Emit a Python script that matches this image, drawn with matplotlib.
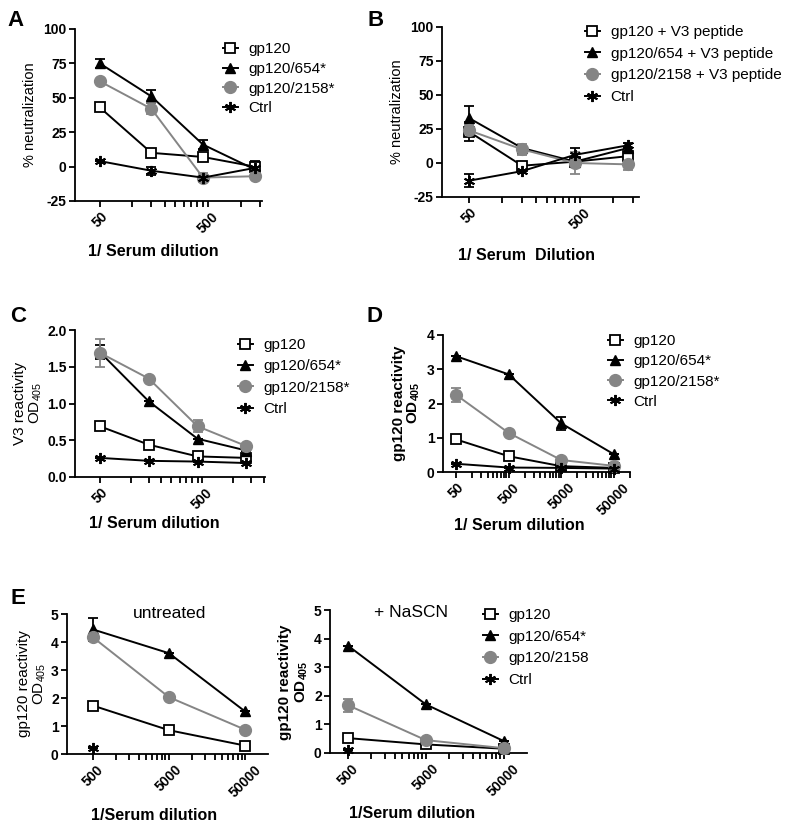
import numpy as np
import matplotlib
matplotlib.use("Agg")
import matplotlib.pyplot as plt
from matplotlib.ticker import FixedLocator, NullFormatter

plt.rcParams['font.family'] = ['Liberation Sans', 'DejaVu Sans']
plt.rcParams['mathtext.fontset'] = 'custom'
plt.rcParams['mathtext.rm'] = 'Liberation Sans'
plt.rcParams['mathtext.it'] = 'Liberation Sans'
plt.rcParams['mathtext.bf'] = 'Liberation Sans:bold'
plt.rcParams['axes.unicode_minus'] = False

# ---------------- data ----------------
x_AC = [50, 150, 450, 1350]
x_D = [50, 500, 5000, 50000]
x_E = [500, 5000, 50000]

labels_A = ['gp120', 'gp120/654*', 'gp120/2158*', 'Ctrl']
labels_B = ['gp120 + V3 peptide', 'gp120/654 + V3 peptide', 'gp120/2158 + V3 peptide', 'Ctrl']
labels_E = ['gp120', 'gp120/654*', 'gp120/2158', 'Ctrl']

# Panel A: % neutralization
A_gp120 = [43, 10, 7, 0];      A_gp120_err = [0, 0, 0, 4]
A_654 = [75, 51, 16, -2];      A_654_err = [3, 5, 3, 0]
A_2158 = [62, 42, -8, -7];     A_2158_err = [0, 4, 3, 0]
A_ctrl = [4, -3, -8, -1];      A_ctrl_err = [0, 3, 0, 0]

# Panel B: % neutralization with V3 peptide
B_gp120 = [23, -2, 1, 5];      B_gp120_err = [7, 0, 0, 0]
B_654 = [33, 11, 1, 11];       B_654_err = [9, 0, 0, 0]
B_2158 = [24, 10, 0, -1];      B_2158_err = [4, 4, 8, 4]
B_ctrl = [-13, -6, 6, 13];     B_ctrl_err = [5, 0, 5, 2]

# Panel C: V3 reactivity OD405
C_gp120 = [0.69, 0.44, 0.28, 0.26];  C_gp120_err = [0, 0, 0, 0]
C_654 = [1.70, 1.03, 0.52, 0.36];    C_654_err = [0.1, 0, 0, 0]
C_2158 = [1.69, 1.34, 0.69, 0.42];   C_2158_err = [0.19, 0, 0.08, 0]
C_ctrl = [0.26, 0.22, 0.21, 0.19];   C_ctrl_err = [0, 0, 0, 0]

# Panel D: gp120 reactivity OD405
D_gp120 = [0.95, 0.46, 0.17, 0.12];  D_gp120_err = [0, 0, 0, 0]
D_654 = [3.38, 2.85, 1.42, 0.52];    D_654_err = [0, 0, 0.2, 0]
D_2158 = [2.25, 1.14, 0.35, 0.18];   D_2158_err = [0.2, 0, 0, 0]
D_ctrl = [0.24, 0.13, 0.12, 0.10];   D_ctrl_err = [0, 0, 0, 0]

# Panel E untreated
Eu_gp120 = [1.73, 0.85, 0.30];       Eu_gp120_err = [0, 0, 0]
Eu_654 = [4.45, 3.60, 1.52];         Eu_654_err = [0.4, 0, 0]
Eu_2158 = [4.17, 2.03, 0.87];        Eu_2158_err = [0, 0, 0]
Eu_ctrl = [0.20, np.nan, np.nan];    Eu_ctrl_err = [0, 0, 0]

# Panel E + NaSCN
En_gp120 = [0.52, 0.30, 0.15];       En_gp120_err = [0, 0, 0]
En_654 = [3.75, 1.70, 0.42];         En_654_err = [0, 0, 0]
En_2158 = [1.67, 0.45, 0.17];        En_2158_err = [0.22, 0, 0]
En_ctrl = [0.12, np.nan, np.nan];    En_ctrl_err = [0, 0, 0]

# ---------------- styling ----------------
GRAY = '#858585'
STY = [
    dict(marker='s', mfc='white', mec='black', color='black', ms=7.5, mew=1.3),
    dict(marker='^', mfc='black', mec='black', color='black', ms=7.5, mew=1.0),
    dict(marker='o', mfc=GRAY, mec=GRAY, color=GRAY, ms=8.5, mew=1.0),
    dict(marker=(6, 2, 0), mfc='black', mec='black', color='black', ms=8, mew=1.4),
]

W, H = 800, 827
fig = plt.figure(figsize=(W / 100, H / 100), dpi=100)


def axbox(l, r, t, b):
    return fig.add_axes([l / W, 1 - b / H, (r - l) / W, (b - t) / H])


def style_axes(ax, xlim, ylim, yticks, majors, yfmt=None):
    ax.set_xscale('log')
    ax.set_xlim(*xlim)
    ax.set_ylim(*ylim)
    for s in ['top', 'right']:
        ax.spines[s].set_visible(False)
    for s in ['left', 'bottom']:
        ax.spines[s].set_linewidth(1.3)
    ax.set_yticks(yticks)
    if yfmt:
        ax.set_yticklabels([yfmt.format(v) for v in yticks])
    ax.set_xticks(majors)
    ax.set_xticklabels([str(m) for m in majors], rotation=45, ha='center', va='top')
    minors = []
    for m in majors + [majors[-1] * 10]:
        for k in range(2, 10):
            v = m * k
            if v < xlim[1] and v not in majors:
                minors.append(v)
    ax.xaxis.set_minor_locator(FixedLocator(minors))
    ax.xaxis.set_minor_formatter(NullFormatter())
    ax.tick_params(axis='both', which='major', length=4, width=1.3, labelsize=10, pad=2)
    ax.tick_params(axis='x', which='minor', length=4, width=1.3)
    ax.tick_params(axis='y', which='minor', left=False)
    for lab in ax.get_xticklabels() + ax.get_yticklabels():
        lab.set_fontweight('bold')


def draw(ax, x, ys, errs):
    handles = []
    for y, e, st in zip(ys, errs, STY):
        ax.errorbar(x, y, yerr=e, fmt='none', ecolor=st['color'], elinewidth=1.3,
                    capsize=3.5, capthick=1.3, zorder=2)
        h, = ax.plot(x, y, lw=1.4, clip_on=False, zorder=3, **st)
        handles.append(h)
    return handles


def legend(ax, handles, labels, x, y, spacing):
    return ax.legend(handles, labels, loc='upper left',
                     bbox_to_anchor=(x / W, 1 - y / H), bbox_transform=fig.transFigure,
                     frameon=False, fontsize=11, handlelength=0.95, handletextpad=0.72,
                     labelspacing=spacing, borderpad=0, borderaxespad=0)


# Panel A
axA = axbox(75, 262, 29, 201)
style_axes(axA, (29.5, 1580), (-25, 100), [-25, 0, 25, 50, 75, 100], [50, 500])
hA = draw(axA, x_AC, [A_gp120, A_654, A_2158, A_ctrl],
          [A_gp120_err, A_654_err, A_2158_err, A_ctrl_err])
legend(axA, hA, labels_A, 223, 42.5, 0.37)

# Panel B
axB = axbox(442, 639, 27, 197)
style_axes(axB, (28.5, 1700), (-25, 100), [-25, 0, 25, 50, 75, 100], [50, 500])
hB = draw(axB, x_AC, [B_gp120, B_654, B_2158, B_ctrl],
          [B_gp120_err, B_654_err, B_2158_err, B_ctrl_err])
legend(axB, hB, labels_B, 585, 25, 0.5)

# Panel C
axC = axbox(75, 265, 330, 477)
style_axes(axC, (28.6, 2050), (0, 2.0), [0, 0.5, 1.0, 1.5, 2.0], [50, 500], '{:.1f}')
hC = draw(axC, x_AC, [C_gp120, C_654, C_2158, C_ctrl],
          [C_gp120_err, C_654_err, C_2158_err, C_ctrl_err])
legend(axC, hC, labels_A, 238, 338, 0.48)

# Panel D
axD = axbox(443, 630, 335, 472)
style_axes(axD, (28, 102000), (0, 4), [0, 1, 2, 3, 4], [50, 500, 5000, 50000])
hD = draw(axD, x_D, [D_gp120, D_654, D_2158, D_ctrl],
          [D_gp120_err, D_654_err, D_2158_err, D_ctrl_err])
legend(axD, hD, labels_A, 608, 334, 0.41)

# Panel E untreated
axE1 = axbox(67, 268, 614, 754)
style_axes(axE1, (229, 100000), (0, 5), [0, 1, 2, 3, 4, 5], [500, 5000, 50000])
draw(axE1, x_E, [Eu_gp120, Eu_654, Eu_2158, Eu_ctrl],
     [Eu_gp120_err, Eu_654_err, Eu_2158_err, Eu_ctrl_err])
axE1.text(0.51, 1.0, 'untreated', transform=axE1.transAxes, ha='center', va='center',
          fontsize=12.5)

# Panel E + NaSCN
axE2 = axbox(330, 527, 610, 753)
style_axes(axE2, (293, 100000), (0, 5), [0, 1, 2, 3, 4, 5], [500, 5000, 50000])
hE = draw(axE2, x_E, [En_gp120, En_654, En_2158, En_ctrl],
          [En_gp120_err, En_654_err, En_2158_err, En_ctrl_err])
axE2.text(0.41, 0.98, '+ NaSCN', transform=axE2.transAxes, ha='center', va='center',
          fontsize=12.5)
legend(axE2, hE, labels_E, 483, 608, 0.5)

# panel letters
for s, x, y in [('A', 15, 20), ('B', 376, 20), ('C', 18, 316), ('D', 375, 316), ('E', 18, 598)]:
    fig.text(x / W, 1 - y / H, s, fontsize=16, fontweight='bold', ha='center', va='center')

# y labels
for s, x, y, w, fs in [('% neutralization', 30, 115, 'normal', 10.5),
                       ('% neutralization', 397, 112, 'normal', 10.5),
                       ('V3 reactivity\nOD$_{405}$', 29, 403, 'normal', 11),
                       ('gp120 reactivity\n$\\mathbf{OD_{405}}$', 407, 403, 'bold', 11),
                       ('gp120 reactivity\nOD$_{405}$', 33, 684, 'normal', 11),
                       ('gp120 reactivity\n$\\mathbf{OD_{405}}$', 294, 682, 'bold', 11)]:
    fig.text(x / W, 1 - y / H, s, rotation=90, fontsize=fs, fontweight=w,
             ha='center', va='center', multialignment='center', linespacing=1.05)

# x labels
for s, x, y in [('1/ Serum dilution', 153, 252), ('1/ Serum  Dilution', 527, 255),
                ('1/ Serum dilution', 154, 524), ('1/ Serum dilution', 519, 525),
                ('1/Serum dilution', 154, 815), ('1/Serum dilution', 412, 813)]:
    fig.text(x / W, 1 - y / H, s, fontsize=11.5, fontweight='bold', ha='center', va='center')

fig.savefig('out.png', dpi=100)
